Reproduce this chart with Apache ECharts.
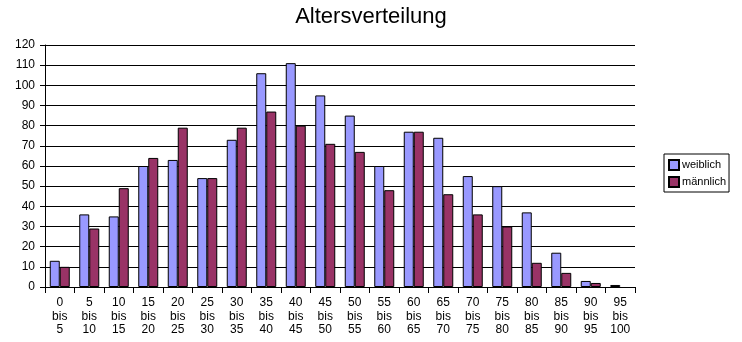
<!DOCTYPE html>
<html>
<head>
<meta charset="utf-8">
<script src="https://cdn.jsdelivr.net/npm/echarts@6/dist/echarts.min.js"></script>
<style>
  html, body { margin: 0; padding: 0; background: #ffffff; }
  #chart { width: 742px; height: 342px; }
</style>
</head>
<body>
<div id="chart"></div>
<script>
// Age groups (5-year bands)
const categories = [
  '0\nbis\n5', '5\nbis\n10', '10\nbis\n15', '15\nbis\n20', '20\nbis\n25',
  '25\nbis\n30', '30\nbis\n35', '35\nbis\n40', '40\nbis\n45', '45\nbis\n50',
  '50\nbis\n55', '55\nbis\n60', '60\nbis\n65', '65\nbis\n70', '70\nbis\n75',
  '75\nbis\n80', '80\nbis\n85', '85\nbis\n90', '90\nbis\n95', '95\nbis\n100'
];

// Counts per age group
const weiblich = [13, 36, 35, 60, 63, 54, 73, 106, 111, 95, 85, 60, 77, 74, 55, 50, 37, 17, 3, 1];
const maennlich = [10, 29, 49, 64, 79, 54, 79, 87, 80, 71, 67, 48, 77, 46, 36, 30, 12, 7, 2, 0];

// Value axis range
const yMin = 0;
const yMax = 120;
const yStep = 10;

const FONT = '"Liberation Sans", Arial, sans-serif';

// Empty groups get no outline, so a zero count leaves no line on the axis
function barData(values) {
  return values.map(v => (v === 0 ? { value: v, itemStyle: { borderWidth: 0 } } : v));
}

const chart = echarts.init(document.getElementById('chart'), null, { renderer: 'canvas' });

chart.setOption({
  backgroundColor: '#ffffff',
  animation: false,
  title: {
    text: 'Altersverteilung',
    left: 'center',
    top: 1,
    textStyle: { fontFamily: FONT, fontSize: 22, fontWeight: 'normal', color: '#000000' }
  },
  legend: {
    orient: 'vertical',
    left: 664,
    top: 154,
    padding: [5, 3, 4, 4],
    itemWidth: 10,
    itemHeight: 10,
    itemGap: 5,
    borderColor: '#000000',
    borderWidth: 1,
    backgroundColor: '#ffffff',
    icon: 'rect',
    textStyle: { fontFamily: FONT, fontSize: 11, color: '#000000', padding: [0, 0, 0, -2] },
    data: ['weiblich', 'männlich']
  },
  grid: { left: 45, right: 107, top: 45, bottom: 55, containLabel: false },
  xAxis: {
    type: 'category',
    data: categories,
    boundaryGap: true,
    axisLine: { show: true, lineStyle: { color: '#000000', width: 1 } },
    axisTick: { show: true, length: 6, lineStyle: { color: '#000000', width: 1 } },
    axisLabel: {
      interval: 0,
      margin: 9,
      fontFamily: FONT,
      fontSize: 12,
      lineHeight: 13.5,
      color: '#000000'
    },
    splitLine: { show: false }
  },
  yAxis: {
    type: 'value',
    min: yMin,
    max: yMax,
    interval: yStep,
    axisLine: { show: true, lineStyle: { color: '#000000', width: 1 } },
    axisTick: { show: true, length: 5, lineStyle: { color: '#000000', width: 1 } },
    axisLabel: { margin: 10, fontFamily: FONT, fontSize: 12, color: '#000000' },
    splitLine: { show: true, lineStyle: { color: '#000000', width: 1 } }
  },
  series: [
    {
      name: 'weiblich',
      type: 'bar',
      data: barData(weiblich),
      barWidth: 10,
      barGap: '0%',
      itemStyle: { color: '#9999ff', borderColor: '#000000', borderWidth: 1 }
    },
    {
      name: 'männlich',
      type: 'bar',
      data: barData(maennlich),
      barWidth: 10,
      barGap: '0%',
      itemStyle: { color: '#993366', borderColor: '#000000', borderWidth: 1 }
    }
  ]
});
</script>
</body>
</html>
